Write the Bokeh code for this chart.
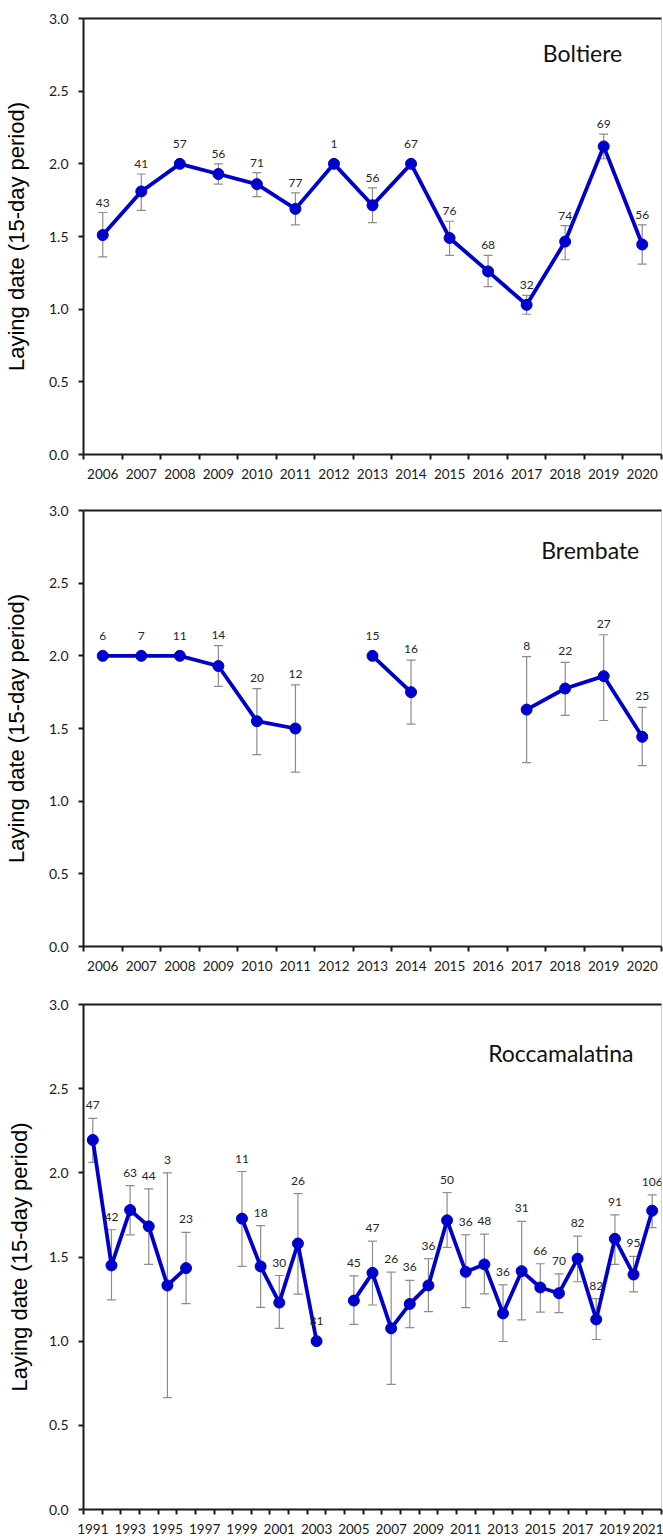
import math
from bokeh.plotting import figure
from bokeh.models import Range1d, FixedTicker, NumeralTickFormatter, CustomJSTickFormatter, LinearAxis
from bokeh.layouts import column
from bokeh.core.properties import value
from bokeh.embed import file_html
from bokeh.resources import INLINE

# ---------------- data ----------------
years_a = list(range(2006, 2021))

boltiere_mean = [1.51, 1.81, 2.00, 1.93, 1.86, 1.69, 2.00, 1.715, 2.00, 1.49, 1.26, 1.03, 1.465, 2.12, 1.445]
boltiere_lo = [1.36, 1.68, 2.00, 1.86, 1.775, 1.58, 2.00, 1.595, 2.00, 1.37, 1.155, 0.965, 1.34, 2.035, 1.31]
boltiere_hi = [1.665, 1.93, 2.00, 2.00, 1.94, 1.80, 2.00, 1.835, 2.00, 1.605, 1.37, 1.095, 1.575, 2.205, 1.58]
boltiere_n = [43, 41, 57, 56, 71, 77, 1, 56, 67, 76, 68, 32, 74, 69, 56]

brembate_mean = [2.00, 2.00, 2.00, 1.93, 1.55, 1.50, None, 2.00, 1.75, None, None, 1.63, 1.775, 1.86, 1.443]
brembate_lo = [2.00, 2.00, 2.00, 1.79, 1.32, 1.20, None, 2.00, 1.53, None, None, 1.265, 1.59, 1.555, 1.245]
brembate_hi = [2.00, 2.00, 2.00, 2.07, 1.775, 1.80, None, 2.00, 1.97, None, None, 1.995, 1.955, 2.145, 1.645]
brembate_n = [6, 7, 11, 14, 20, 12, None, 15, 16, None, None, 8, 22, 27, 25]

years_b = list(range(1991, 2022))
rocca_mean = [2.195, 1.45, 1.779, 1.682, 1.331, 1.434, None, None, 1.728, 1.444, 1.229, 1.58, 1.00, None,
              1.241, 1.406, 1.076, 1.221, 1.331, 1.718, 1.412, 1.456, 1.165, 1.416, 1.319, 1.285, 1.49,
              1.129, 1.608, 1.396, 1.775]
rocca_lo = [2.062, 1.245, 1.632, 1.456, 0.665, 1.223, None, None, 1.444, 1.201, 1.076, 1.279, 1.00, None,
            1.10, 1.215, 0.743, 1.08, 1.175, 1.557, 1.199, 1.281, 0.998, 1.127, 1.173, 1.169, 1.353,
            1.01, 1.456, 1.293, 1.674]
rocca_hi = [2.324, 1.662, 1.924, 1.905, 2.00, 1.646, None, None, 2.008, 1.686, 1.39, 1.877, 1.00, None,
            1.388, 1.594, 1.41, 1.361, 1.49, 1.883, 1.632, 1.636, 1.335, 1.712, 1.46, 1.40, 1.624,
            1.253, 1.75, 1.504, 1.869]
rocca_n = [47, 42, 63, 44, 3, 23, None, None, 11, 18, 30, 26, 31, None,
           45, 47, 26, 36, 36, 50, 36, 48, 36, 31, 66, 70, 82, 82, 91, 95, 106]

y_ticks = [0.0, 0.5, 1.0, 1.5, 2.0, 2.5, 3.0]
y_title = "Laying date (15-day period)"

BLUE = "#0000CC"
GREY = "#8c8c8c"
AXIS = "#1a1a1a"
TXT = "#1a1a1a"


def make_panel(years, mean, lo, hi, n, site, site_x, site_y, tick_years,
               fig_h, top_b, bottom_b, left_b, lab_standoff, eb_gap_px):
    frame_h = fig_h - top_b - bottom_b
    ppu = frame_h / 3.0
    p = figure(width=663, height=fig_h,
               x_range=Range1d(years[0] - 0.5, years[-1] + 0.5),
               y_range=Range1d(0, 3),
               output_backend="svg", toolbar_location=None,
               min_border_left=left_b, min_border_right=2,
               min_border_top=top_b, min_border_bottom=bottom_b,
               background_fill_color="white", border_fill_color="white")
    p.grid.visible = False
    p.outline_line_color = "#cfcfcf"
    p.outline_line_width = 1

    # y axis
    ya = p.yaxis[0]
    ya.ticker = FixedTicker(ticks=y_ticks)
    ya.formatter = NumeralTickFormatter(format="0.0")
    ya.axis_line_color = AXIS
    ya.axis_line_width = 2
    ya.major_tick_line_color = AXIS
    ya.major_tick_line_width = 2
    ya.major_tick_out = 5
    ya.major_tick_in = 0
    ya.minor_tick_line_color = None
    ya.major_label_text_font = "Lato"
    ya.major_label_text_font_size = "14px"
    ya.major_label_text_color = TXT
    ya.major_label_standoff = 10
    ya.axis_label = y_title
    ya.axis_label_text_font = "Liberation Sans"
    ya.axis_label_text_font_style = "normal"
    ya.axis_label_text_font_size = "22px"
    ya.axis_label_text_color = "#000000"
    ya.axis_label_standoff = lab_standoff

    # x axis: labels at category centres, ticks at category boundaries
    xa = p.xaxis[0]
    bounds = [y - 0.5 for y in years] + [years[-1] + 0.5]
    xa.ticker = FixedTicker(ticks=tick_years, minor_ticks=bounds)
    xa.formatter = CustomJSTickFormatter(code="return tick.toFixed(0);")
    xa.axis_line_color = AXIS
    xa.axis_line_width = 2
    xa.major_tick_out = 0
    xa.major_tick_in = 0
    xa.major_tick_line_color = None
    xa.minor_tick_out = 5
    xa.minor_tick_in = 0
    xa.minor_tick_line_color = AXIS
    xa.minor_tick_line_width = 2
    xa.major_label_text_font = "Lato"
    xa.major_label_text_font_size = "13.5px"
    xa.major_label_text_color = TXT
    xa.major_label_standoff = 9

    # top border line
    top = LinearAxis(ticker=FixedTicker(ticks=[]), major_label_text_font_size="0px",
                     major_tick_out=0, major_tick_in=0, minor_tick_out=0, minor_tick_in=0,
                     axis_line_color=AXIS, axis_line_width=2, major_label_standoff=0)
    p.add_layout(top, "above")

    nan = float("nan")
    ys = [nan if v is None else v for v in mean]
    # error bars
    ex, elo, ehi = [], [], []
    for yr, v, a, b in zip(years, mean, lo, hi):
        if v is None or a is None or (b - a) < 1e-6:
            continue
        ex.append(yr); elo.append(a); ehi.append(b)
    p.segment(x0=ex, y0=elo, x1=ex, y1=ehi, line_color=GREY, line_width=1.2)
    p.scatter(x=ex + ex, y=elo + ehi, marker="dash", size=9, line_color=GREY, line_width=1.2)

    # series line + markers
    p.line(x=years, y=ys, line_color=BLUE, line_width=3.8)
    mx = [yr for yr, v in zip(years, mean) if v is not None]
    my = [v for v in mean if v is not None]
    p.scatter(x=mx, y=my, size=11, fill_color=BLUE, line_color=BLUE)

    # sample size labels
    lx, ly, lt = [], [], []
    for yr, v, b, k in zip(years, mean, hi, n):
        if v is None:
            continue
        top_v = b if b is not None else v
        lx.append(yr)
        ly.append(max(top_v + eb_gap_px / ppu, v + 20.0 / ppu))
        lt.append(str(k))
    p.text(x=lx, y=ly, text=lt, text_align="center", text_baseline="middle",
           text_font=value("Lato"), text_font_size="12px", text_color="#262626")

    # site name
    p.text(x=[site_x], y=[site_y], text=[site], text_align="center", text_baseline="middle",
           text_font=value("Lato"), text_font_size="23px", text_color="#111111")
    return p


p1 = make_panel(years_a, boltiere_mean, boltiere_lo, boltiere_hi, boltiere_n,
                "Boltiere", 2018.45, 2.76, years_a,
                fig_h=496, top_b=18, bottom_b=42, left_b=79, lab_standoff=17, eb_gap_px=10)
p2 = make_panel(years_a, brembate_mean, brembate_lo, brembate_hi, brembate_n,
                "Brembate", 2018.65, 2.725, years_a,
                fig_h=492, top_b=14, bottom_b=42, left_b=79, lab_standoff=17, eb_gap_px=11)
p3 = make_panel(years_b, rocca_mean, rocca_lo, rocca_hi, rocca_n,
                "Roccamalatina", 2016.1, 2.71, years_b[::2],
                fig_h=548, top_b=16, bottom_b=26, left_b=76, lab_standoff=14, eb_gap_px=13)

layout = column(p1, p2, p3, spacing=0)
open("out.html", "w").write(file_html(layout, INLINE))
